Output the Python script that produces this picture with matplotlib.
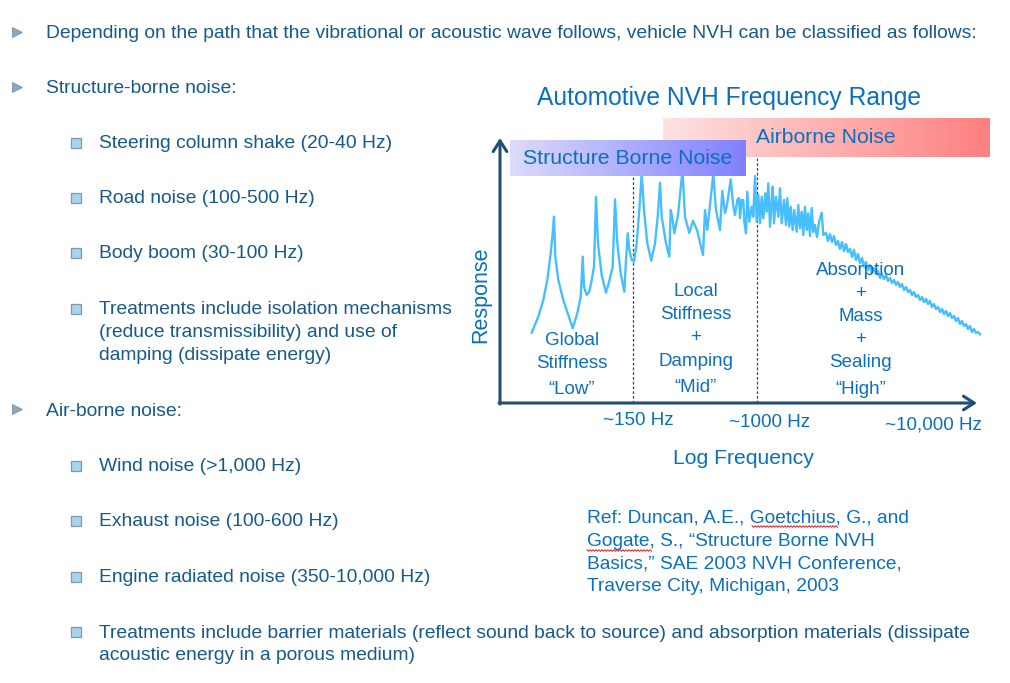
import numpy as np
import matplotlib
matplotlib.use("Agg")
import matplotlib.pyplot as plt
from matplotlib.colors import LinearSegmentedColormap

plt.rcParams['font.family'] = ['Liberation Sans', 'DejaVu Sans']

# ---------------- data ----------------
title = "Automotive NVH Frequency Range"
x_label = "Log Frequency"
y_label = "Response"
freq_tick_labels = ["~150 Hz", "~1000 Hz", "~10,000 Hz"]
band_edges = [133, 257]
band_labels = [["Global", "Stiffness", "\u201cLow\u201d"],
               ["Local", "Stiffness", "+", "Damping", "\u201cMid\u201d"],
               ["Absorption", "+", "Mass", "+", "Sealing", "\u201cHigh\u201d"]]

# response curve (log-frequency units, response units)
log_freq = [31.7, 38.3, 43.3, 47.3, 50.7, 52.7, 54, 55.3, 58.3, 63.3, 68.3, 72.7,
            77.3, 80.7, 82.7, 84, 86.7, 89.3, 91.7, 94, 96, 98, 101.7, 106, 108.7,
            112.7, 115, 117.3, 120.7, 124.3, 126, 127.7, 129.3, 131.7, 134, 136.7,
            139.3, 141.7, 144, 147.3, 151.3, 155, 157.7, 160, 161.7, 166, 169.3,
            170.7, 172.7, 174.3, 178, 180.5, 182.5, 185, 189.3, 193, 197, 203, 205,
            207.3, 210, 213.3, 216, 220, 222.3, 225, 227, 230.7, 233.3, 235, 237.3,
            239, 240, 241.7, 243.3, 244.3, 246, 247.3, 249.3, 251.7, 253.3, 255,
            256.7, 258.3, 260, 261.7, 263.3, 265.3, 266.7, 268.3, 270, 271.7, 272.7,
            274, 276, 278.3, 280, 281.7, 284, 286, 287.3, 289.3, 290.7, 292.7, 294.3,
            296.7, 298.3, 300, 301.7, 303.3, 305, 306.7, 308.3, 310, 311.7, 313.3,
            315, 317, 319, 321.7, 323.3,
            326, 328, 330, 332, 334, 336, 338, 340, 342, 344, 346, 348, 350, 352,
            354, 356, 358, 360, 362, 364, 366, 368, 370, 372, 374, 376, 378, 380,
            382, 384, 386, 388, 390, 392, 394, 396, 398, 400, 402, 404, 406, 408,
            410, 412, 414, 416, 418, 420, 422, 424, 426, 428, 430, 432, 434, 436,
            438, 440, 442, 444, 446, 448, 450, 452, 454, 456, 458, 460, 462, 464,
            466, 468, 470, 472, 474, 476, 478, 480]
response = [70.3, 86.3, 103, 123, 149.7, 169.7, 186.3, 146.3, 123, 103, 88, 74.7,
            89.7, 106.3, 146.3, 116.3, 108, 111.3, 123, 136.3, 206.3, 159.7, 128,
            110.3, 119.7, 136.3, 203.7, 159.7, 129.7, 111.3, 143, 169.7, 153, 143,
            141.3, 159.7, 193, 229.7, 193, 159.7, 142.3, 159.7, 186.3, 220.3, 186.3,
            159.7, 146.3, 193, 183, 169.7, 188, 213, 233, 186.3, 170, 182, 173, 148,
            193, 173, 198, 229, 193, 173, 212.3, 190, 198, 223.7, 196.3, 188, 203,
            205, 185, 203, 203, 181.3, 169.7, 211.3, 181.3, 196.3, 186.3, 227,
            181.3, 208, 179.7, 206.3, 184.7, 209.7, 191.3, 219.7, 176.3, 203, 216.3,
            179.7, 206.3, 186.3, 214.7, 179.7, 203, 178, 204.7, 176.3, 196.3, 173,
            193, 171.3, 198, 174.7, 191.3, 168, 196.3, 173, 189.7, 167, 195, 171,
            178, 166, 181, 190.3, 168,
            170, 162, 169, 161, 167, 158, 162, 154, 161, 152, 159, 151, 154, 146,
            153, 143, 149, 140, 145, 136, 141, 133, 138, 130, 135, 129, 132, 125,
            129, 124, 128, 122, 125, 120, 123, 118, 121, 116, 119, 113, 116, 111,
            113, 108, 111, 106, 108, 103, 106, 101, 104, 99, 102, 96, 99, 94,
            96, 91, 94, 89, 92, 87, 90, 85, 87, 82, 85, 79, 82, 77,
            79, 74, 77, 71, 74, 70, 71, 68.7]

bullets = [  # (level, text lines)
    (1, ["Depending on the path that the vibrational or acoustic wave follows, vehicle NVH can be classified as follows:"]),
    (1, ["Structure-borne noise:"]),
    (2, ["Steering column shake (20-40 Hz)"]),
    (2, ["Road noise (100-500 Hz)"]),
    (2, ["Body boom (30-100 Hz)"]),
    (2, ["Treatments include isolation mechanisms", "(reduce transmissibility) and use of", "damping (dissipate energy)"]),
    (1, ["Air-borne noise:"]),
    (2, ["Wind noise (>1,000 Hz)"]),
    (2, ["Exhaust noise (100-600 Hz)"]),
    (2, ["Engine radiated noise (350-10,000 Hz)"]),
    (2, ["Treatments include barrier materials (reflect sound back to source) and absorption materials (dissipate",
         "acoustic energy in a porous medium)"]),
]
reference = ["Ref: Duncan, A.E., Goetchius, G., and",
             "Gogate, S., \u201cStructure Borne NVH",
             "Basics,\u201d SAE 2003 NVH Conference,",
             "Traverse City, Michigan, 2003"]

# ---------------- styles ----------------
W, H = 1010, 683
body_color = '#17598c'
chart_text = '#0a6fbf'
axis_color = '#1f4e79'
curve_color = '#47bfff'

fig = plt.figure(figsize=(W / 100, H / 100), dpi=100)
fig.patch.set_facecolor('white')

# chart axes (pixel box 500..977 x 138..403)
ax = fig.add_axes([500 / W, (H - 403) / H, 477 / W, 265 / H])
ax.set_xlim(0, 477)
ax.set_ylim(0, 265)
ax.axis('off')
ax.plot(log_freq, response, color=curve_color, lw=1.7, clip_on=False, zorder=3)
ax.vlines(band_edges[0], 0, 227, colors=axis_color, lw=0.9, linestyles=(0, (2.2, 1.6)), zorder=2)
ax.vlines(band_edges[1], 0, 246, colors=axis_color, lw=0.9, linestyles=(0, (2.2, 1.6)), zorder=2)
arrow = dict(arrowstyle='->,head_length=0.55,head_width=0.35', color=axis_color, lw=2.2,
             shrinkA=0, shrinkB=0, mutation_scale=14)
ax.annotate('', xy=(1, 0), xytext=(-0.002, 0), xycoords='axes fraction', arrowprops=arrow)
ax.annotate('', xy=(0, 1), xytext=(0, -0.004), xycoords='axes fraction', arrowprops=arrow)

# overlay axes in pixel coordinates for slide text & boxes
ov = fig.add_axes([0, 0, 1, 1])
ov.patch.set_alpha(0)
ov.axis('off')

def gradient_box(x0, x1, y0, y1, c0, c1):
    cmap = LinearSegmentedColormap.from_list('g', [c0, c1])
    grad = np.linspace(0, 1, 256).reshape(1, -1)
    ov.imshow(grad, cmap=cmap, extent=(x0, x1, y1, y0), aspect='auto', zorder=2, interpolation='bilinear')

gradient_box(663, 990, 118, 157, '#fde2e2', '#ff8080')
gradient_box(510, 746, 140, 176, '#dcdcfa', '#8080ff')
ov.set_xlim(0, W)
ov.set_ylim(H, 0)

ov.text(826, 143.3, "Airborne Noise", fontsize=15.2, color=chart_text, ha='center', va='baseline', zorder=5)
ov.text(627.7, 164, "Structure Borne Noise", fontsize=15.3, color=chart_text, ha='center', va='baseline', zorder=5)
ov.text(729, 104.5, title, fontsize=17.7, color=chart_text, ha='center', va='baseline', zorder=5)
ov.text(743, 464.5, x_label, fontsize=15.2, color=chart_text, ha='center', va='baseline', zorder=5)
ov.text(481, 295, y_label, fontsize=15.5, color=chart_text, ha='center', va='center', rotation=90, zorder=5)

tick_px = [638.3, 770, 933.3]
tick_base = [425, 426.7, 430]
for xp, yb, lab in zip(tick_px, tick_base, freq_tick_labels):
    ov.text(xp, yb, lab, fontsize=13.6, color=chart_text, ha='center', va='baseline', zorder=5)

label_x = [571.7, 695.7, 860.7]
label_base = [[345, 367.7, 394.3],
              [295.7, 319, 342, 365.7, 391.7],
              [275, 298, 321, 344, 367.3, 394]]
for xp, bases, lines in zip(label_x, label_base, band_labels):
    for yb, s in zip(bases, lines):
        ov.text(xp, yb, s, fontsize=13.5, color=chart_text, ha='center', va='baseline', zorder=5)

# bullets
base_y = [38.3, 93.3, 148.3, 203.3, 258.3, 314.3, 415.5, 471.3, 526.5, 582, 637.5]
for (lvl, lines), yb in zip(bullets, base_y):
    if lvl == 1:
        ov.plot(17, yb - 6.5, marker='>', ms=7.5, mfc='#8fa8c0', mec='#7d93a8', mew=0.6, zorder=5)
        tx = 46
    else:
        ov.plot(76, yb - 5.5, marker='s', ms=7, mfc='#a9d4f0', mec='#7f97aa', mew=0.9, zorder=5)
        tx = 99
    for k, s in enumerate(lines):
        ov.text(tx, yb + 23 * k, s, fontsize=13.9, color=body_color, ha='left', va='baseline', zorder=5)

ref_base = [522.3, 545.7, 568.3, 591]
for yb, s in zip(ref_base, reference):
    ov.text(587, yb, s, fontsize=13.8, color=chart_text, ha='left', va='baseline', zorder=5)

# spell-check wavy underlines
for x0, x1, yy in [(752, 838, 526.5), (587, 652, 550.5)]:
    xs = np.arange(x0, x1 + 0.1, 1.5)
    ys = yy + np.where(np.arange(len(xs)) % 2 == 0, -0.8, 0.8)
    ov.plot(xs, ys, color='#e02020', lw=0.7, zorder=5)

fig.savefig('out.png', dpi=100, facecolor='white')
